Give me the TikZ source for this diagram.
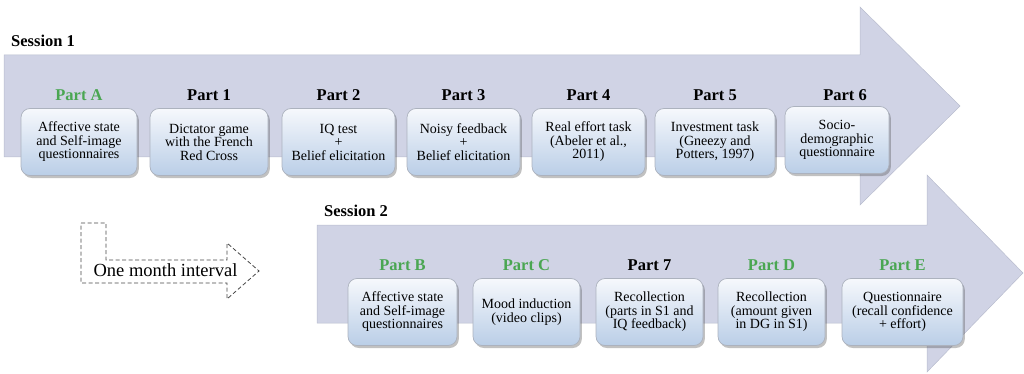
\documentclass[tikz,border=0pt]{standalone}
\usepackage{fontspec}
\setmainfont{Liberation Serif}
\usetikzlibrary{shadows}
\definecolor{arrowfill}{RGB}{208,211,229}
\definecolor{arrowedge}{RGB}{184,188,206}
\definecolor{boxtop}{RGB}{246,248,252}
\definecolor{boxbot}{RGB}{186,206,231}
\definecolor{boxedge}{RGB}{172,178,190}
\definecolor{partgreen}{RGB}{74,166,82}
\definecolor{dashgray}{RGB}{70,70,70}
\begin{document}
\begin{tikzpicture}[x=1pt,y=-1pt,
  bigarrow/.style={fill=arrowfill, draw=arrowedge, line width=0.5pt},
  partbox/.style={draw=boxedge, line width=0.7pt, rounded corners=9pt,
    top color=boxtop, bottom color=boxbot, align=center,
    font=\fontsize{14}{13.5}\selectfont, inner sep=0pt, minimum height=67pt,
    drop shadow={shadow xshift=1.8pt, shadow yshift=-2.5pt, opacity=0.35, fill=black!70}},
  plabel/.style={font=\fontsize{16.5}{18}\selectfont\bfseries, anchor=base, inner sep=0pt},
  sessionlabel/.style={font=\fontsize{16.5}{18}\selectfont\bfseries, anchor=base west, inner sep=0pt},
  dasharrow/.style={draw=dashgray, line width=0.8pt, dash pattern=on 4pt off 2.5pt}
]
\useasboundingbox (0,0) rectangle (1024,374);

% big arrows
\draw[bigarrow] (4,55) -- (860,55) -- (860,7) -- (960,106) -- (860,205) -- (860,157) -- (4,157) -- cycle;
\draw[bigarrow] (317,225) -- (927,225) -- (927,175) -- (1023,273) -- (927,372) -- (927,323) -- (317,323) -- cycle;

% session labels
\node[sessionlabel] (s1) at (11,47) {Session 1};
\node[sessionlabel] (s2) at (324,216) {Session 2};

% session 1 boxes
\node[partbox, minimum width=116pt] (bA) at (79,142) {Affective state\\and Self-image\\questionnaires};
\node[partbox, minimum width=118pt] (b1) at (209,142) {Dictator game\\with the French\\Red Cross};
\node[partbox, minimum width=113pt] (b2) at (338.5,142) {IQ test\\+\\Belief elicitation};
\node[partbox, minimum width=113pt] (b3) at (463.5,142) {Noisy feedback\\+\\Belief elicitation};
\node[partbox, minimum width=113pt] (b4) at (588.5,142) {Real effort task\\(Abeler et al.,\\2011)};
\node[partbox, minimum width=120pt] (b5) at (715,142) {Investment task\\(Gneezy and\\Potters, 1997)};
\node[partbox, minimum width=104pt] (b6) at (837,140) {Socio-\\demographic\\questionnaire};

\node[plabel, text=partgreen] (lA) at (79,101) {Part A};
\node[plabel] (l1) at (209,101) {Part 1};
\node[plabel] (l2) at (338.5,101) {Part 2};
\node[plabel] (l3) at (463.5,101) {Part 3};
\node[plabel] (l4) at (588.5,101) {Part 4};
\node[plabel] (l5) at (715,101) {Part 5};
\node[plabel] (l6) at (845,101) {Part 6};

% session 2 boxes
\node[partbox, minimum width=109pt] (bB) at (402.5,312) {Affective state\\and Self-image\\questionnaires};
\node[partbox, minimum width=107pt] (bC) at (526.5,312) {Mood induction\\(video clips)};
\node[partbox, minimum width=107pt] (b7) at (649.5,312) {Recollection\\(parts in S1 and\\IQ feedback)};
\node[partbox, minimum width=107pt] (bD) at (771.5,312) {Recollection\\(amount given\\in DG in S1)};
\node[partbox, minimum width=121pt] (bE) at (902.5,312) {Questionnaire\\(recall confidence\\+ effort)};

\node[plabel, text=partgreen] (lB) at (402.5,270) {Part B};
\node[plabel, text=partgreen] (lC) at (526.5,270) {Part C};
\node[plabel] (l7) at (649.5,270) {Part 7};
\node[plabel, text=partgreen] (lD) at (771.5,270) {Part D};
\node[plabel, text=partgreen] (lE) at (902.5,270) {Part E};

% one month interval dashed arrow
\draw[dasharrow] (81,223) -- (106,223) -- (106,260) -- (227,260) -- (227,243) -- (259,271) -- (227,299) -- (227,283) -- (81,283) -- cycle;
\node[font=\fontsize{18.5}{20}\selectfont, anchor=base, inner sep=0pt] (gap) at (165.5,276) {One month interval};
\end{tikzpicture}
\end{document}
